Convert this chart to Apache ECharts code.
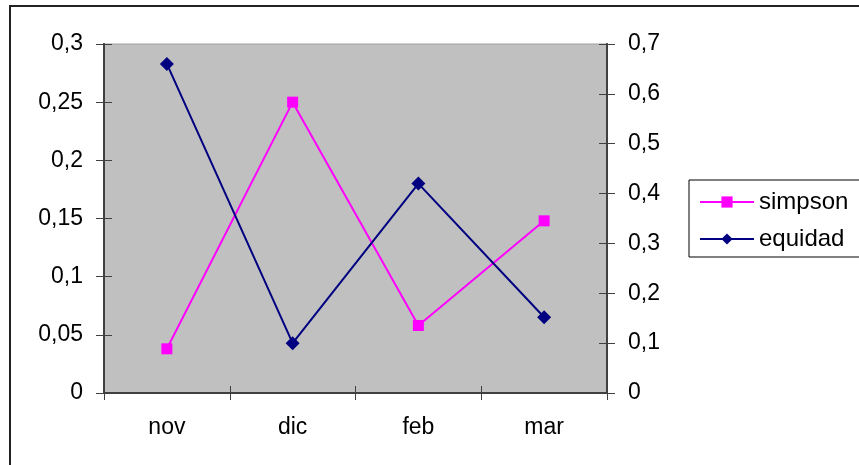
<!DOCTYPE html>
<html>
<head>
<meta charset="utf-8">
<script src="https://cdn.jsdelivr.net/npm/echarts@6/dist/echarts.min.js"></script>
<style>html,body{margin:0;padding:0;background:#fff}#c{width:859px;height:465px}</style>
</head>
<body>
<div id="c"></div>
<script>
const categories = ['nov', 'dic', 'feb', 'mar'];
const simpson = [0.038, 0.25, 0.058, 0.148];
const equidad = [0.66, 0.10, 0.42, 0.152];
const leftTicks = ['0', '0,05', '0,1', '0,15', '0,2', '0,25', '0,3'];
const rightTicks = ['0', '0,1', '0,2', '0,3', '0,4', '0,5', '0,6', '0,7'];

const font = 'Liberation Sans, Arial, sans-serif';
const lbl = {color: '#000', fontSize: 23, fontFamily: font};
const fmt = v => String(+v.toFixed(2)).replace('.', ',');

const chart = echarts.init(document.getElementById('c'));
const baseY = (pos, max, interval, showLabel, inside) => ({
  type: 'value', position: pos, min: 0, max: max, interval: interval,
  splitLine: {show: false},
  axisLine: {show: true, lineStyle: {color: '#404040', width: 2}},
  axisTick: {show: true, inside: inside, length: 8, lineStyle: {color: '#404040', width: 1}},
  axisLabel: {show: showLabel, ...lbl, margin: 21, formatter: fmt}
});
const baseX = (inside, showLabel) => ({
  type: 'category', data: categories, boundaryGap: true, position: 'bottom',
  axisLine: {show: true, lineStyle: {color: '#404040', width: 2}},
  axisTick: {show: true, inside: inside, length: 7, alignWithLabel: false, lineStyle: {color: '#404040', width: 1}},
  axisLabel: {show: showLabel, ...lbl, margin: 23},
  splitLine: {show: false}
});
chart.setOption({
  animation: false,
  backgroundColor: '#fff',
  grid: {left: 104, right: 252, top: 44, bottom: 72, show: true, backgroundColor: '#C0C0C0', borderColor: '#A0A0A0', borderWidth: 1},
  xAxis: [baseX(false, true), baseX(true, false)],
  yAxis: [
    baseY('left', 0.3, 0.05, true, false),
    baseY('right', 0.7, 0.1, true, false),
    baseY('left', 0.3, 0.05, false, true),
    baseY('right', 0.7, 0.1, false, true)
  ],
  legend: {
    orient: 'vertical', left: 689, top: 180,
    padding: [10, 12, 6, 10], itemGap: 13, itemWidth: 54, itemHeight: 14,
    borderColor: '#000', borderWidth: 1, backgroundColor: '#fff',
    textStyle: {...lbl, fontSize: 24, padding: [0, 0, 0, 0]},
    data: ['simpson', 'equidad']
  },
  graphic: [{
    type: 'rect', silent: true, z: -10,
    shape: {x: 10, y: 6, width: 880, height: 500},
    style: {fill: 'none', stroke: '#222', lineWidth: 2}
  }],
  series: [
    {name: 'simpson', type: 'line', data: simpson, xAxisIndex: 0, yAxisIndex: 0,
     symbol: 'rect', symbolSize: 11, lineStyle: {color: '#FF00FF', width: 2},
     itemStyle: {color: '#FF00FF'}},
    {name: 'equidad', type: 'line', data: equidad, xAxisIndex: 0, yAxisIndex: 1,
     symbol: 'diamond', symbolSize: [14, 14], lineStyle: {color: '#000080', width: 2},
     itemStyle: {color: '#000080'}}
  ]
});
</script>
</body>
</html>
